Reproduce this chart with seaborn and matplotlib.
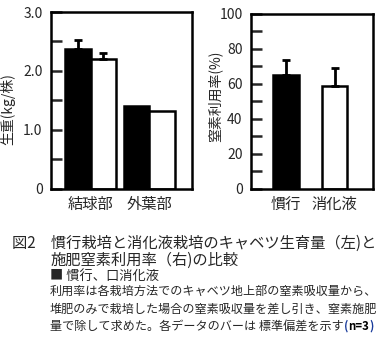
import pandas as pd
import seaborn as sns
import matplotlib.pyplot as plt

## values
parts = ['結球部', '外葉部']
methods = ['慣行', '消化液']
kanko_weight = [2.38, 1.41]
shoka_weight = [2.21, 1.32]
kanko_weight_sd = [0.14, 0.0]
shoka_weight_sd = [0.09, 0.0]
n_use_rate = [65.0, 58.5]
n_use_rate_sd = [8.7, 10.8]

weight_ticks = [0, 0.5, 1.0, 1.5, 2.0, 2.5, 3.0]
weight_ticklabels = ['0', '', '1.0', '', '2.0', '', '3.0']
rate_ticks = [0, 10, 20, 30, 40, 50, 60, 70, 80, 90, 100]
rate_ticklabels = ['0', '', '20', '', '40', '', '60', '', '80', '', '100']

caption1 = '図2\u3000慣行栽培と消化液栽培のキャベツ生育量（左)と'
caption2 = '施肥窒素利用率（右)の比較'
legend_line = '■ 慣行、口消化液'
note_lines = ['利用率は各栽培方法でのキャベツ地上部の窒素吸収量から、',
              '堆肥のみで栽培した場合の窒素吸収量を差し引き、窒素施肥',
              '量で除して求めた。各データのバーは 標準偏差を示す']

weight = pd.DataFrame({
    'part': parts + parts,
    'method': [methods[0]] * 2 + [methods[1]] * 2,
    'value': kanko_weight + shoka_weight,
})
rate = pd.DataFrame({'method': methods, 'value': n_use_rate})

sns.set_style("white")
plt.rcParams['font.family'] = ['Noto Sans CJK JP', 'DejaVu Sans']
plt.rcParams['axes.linewidth'] = 1.8

fig = plt.figure(figsize=(3.83, 3.53), dpi=100)
ax1 = fig.add_axes([0.133, 0.465, 0.368, 0.501])
ax2 = fig.add_axes([0.655, 0.465, 0.319, 0.496])

pal = {methods[0]: 'black', methods[1]: 'white'}

## left panel: fresh weight
sns.barplot(data=weight, x='part', y='value', hue='method', palette=pal,
            edgecolor='black', linewidth=1.8, width=0.87, legend=False,
            errorbar=None, ax=ax1)
for cont, sds in zip(ax1.containers, [kanko_weight_sd, shoka_weight_sd]):
    for bar, sd in zip(cont, sds):
        if sd > 0:
            ax1.errorbar(bar.get_x() + bar.get_width() / 2, bar.get_height(),
                         yerr=[[0], [sd]], fmt='none', ecolor='black',
                         elinewidth=2, capsize=3, capthick=2)
ax1.set_xlim(-0.68, 1.73)
ax1.set_ylim(0, 3.0)
ax1.set_yticks(weight_ticks)
ax1.set_yticklabels(weight_ticklabels)
ax1.set_xlabel('')
ax1.set_ylabel('生重(kg/株)', fontsize=10)
ax1.yaxis.set_label_coords(-0.25, 0.45)

## right panel: nitrogen use rate
sns.barplot(data=rate, x='method', y='value', hue='method', palette=pal,
            edgecolor='black', linewidth=1.8, width=0.53, legend=False,
            errorbar=None, ax=ax2)
for cont, sd in zip(ax2.containers, n_use_rate_sd):
    bar = cont[0]
    ax2.errorbar(bar.get_x() + bar.get_width() / 2, bar.get_height(),
                 yerr=[[0], [sd]], fmt='none', ecolor='black',
                 elinewidth=2, capsize=3, capthick=2)
ax2.set_xlim(-0.72, 1.79)
ax2.set_ylim(0, 100)
ax2.set_yticks(rate_ticks)
ax2.set_yticklabels(rate_ticklabels)
ax2.set_xlabel('')
ax2.set_ylabel('窒素利用率(%)', fontsize=10)
ax2.yaxis.set_label_coords(-0.23, 0.53)

for ax in (ax1, ax2):
    for s in ax.spines.values():
        s.set_visible(True)
        s.set_color('black')
    ax.tick_params(axis='y', direction='in', length=8, width=1.8,
                   labelsize=10, pad=6, left=True)
    ax.tick_params(axis='x', length=0, labelsize=11, pad=5)

## caption
fig.text(12 / 383, 1 - 243 / 353, caption1, fontsize=11, va='center')
fig.text(50 / 383, 1 - 260 / 353, caption2, fontsize=11, va='center')
fig.text(50 / 383, 1 - 276 / 353, legend_line, fontsize=9.5, va='center')
ys = [291, 309, 326]
last = None
for line, y in zip(note_lines, ys):
    last = fig.text(50 / 383, 1 - y / 353, line, fontsize=8.7, va='center')

## "(n=3)" with blue brackets, chained after the last line
t = ax1.annotate('(', xy=(1, 0.5), xycoords=last, va='center', ha='left',
                 fontsize=8.2, fontweight='bold', color='#1a3c9c',
                 annotation_clip=False)
t = ax1.annotate('n=3', xy=(1, 0.5), xycoords=t, va='center', ha='left',
                 fontsize=8.2, fontweight='bold', color='black',
                 annotation_clip=False)
ax1.annotate(')', xy=(1, 0.5), xycoords=t, va='center', ha='left',
             fontsize=8.2, fontweight='bold', color='#1a3c9c',
             annotation_clip=False)

fig.savefig('out.png', dpi=100)
